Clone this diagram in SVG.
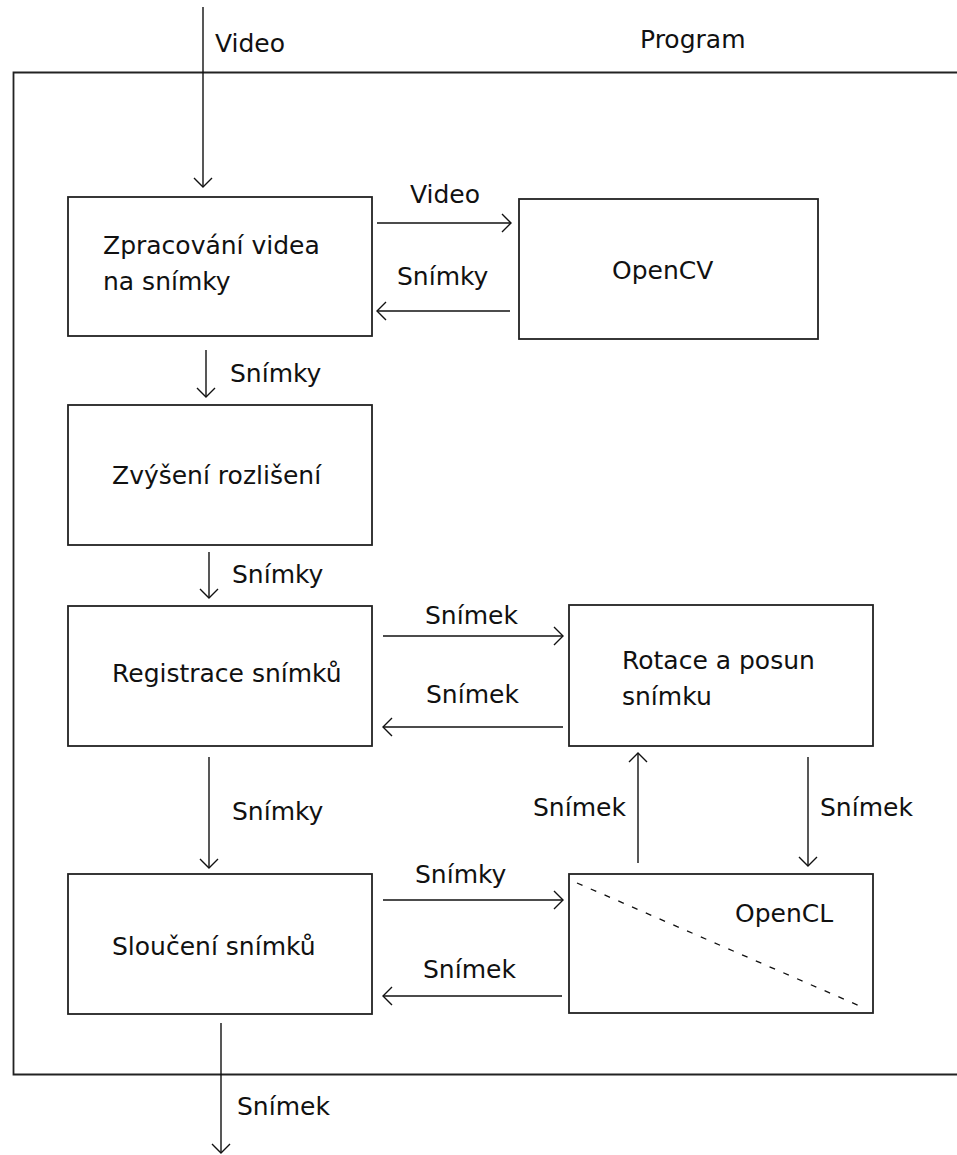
<svg xmlns="http://www.w3.org/2000/svg" width="957" height="1155" viewBox="0 0 957 1155">
<defs>
<style>
.box{fill:#fff;stroke:#222;stroke-width:1.8}
.ln{fill:none;stroke:#111;stroke-width:1.4}
.t{font-family:"DejaVu Sans","Noto Sans",sans-serif;font-size:25px;fill:#111}
</style>
<marker id="ah" viewBox="0 0 11 20" refX="10" refY="10" markerWidth="11" markerHeight="20" markerUnits="userSpaceOnUse" orient="auto">
<path d="M1,1 L10,10 L1,19" fill="none" stroke="#111" stroke-width="1.4"/>
</marker>
</defs>
<rect width="957" height="1155" fill="#fff"/>
<g id="program">
<path d="M957,72.5 H13.5 V1074.5 H957" fill="none" stroke="#222" stroke-width="1.8"/>
<text class="t" x="640" y="48">Program</text>
</g>
<g id="n-zpracovani">
<rect class="box" x="68" y="197" width="304" height="139"/>
<text class="t" x="103" y="254">Zpracování videa</text>
<text class="t" x="103" y="290">na snímky</text>
</g>
<g id="n-opencv">
<rect class="box" x="519" y="199" width="299" height="140"/>
<text class="t" x="612" y="279">OpenCV</text>
</g>
<g id="n-zvyseni">
<rect class="box" x="68" y="405" width="304" height="140"/>
<text class="t" x="112" y="484">Zvýšení rozlišení</text>
</g>
<g id="n-registrace">
<rect class="box" x="68" y="606" width="304" height="140"/>
<text class="t" x="112" y="682">Registrace snímků</text>
</g>
<g id="n-rotace">
<rect class="box" x="569" y="605" width="304" height="141"/>
<text class="t" x="622" y="669">Rotace a posun</text>
<text class="t" x="622" y="705">snímku</text>
</g>
<g id="n-slouceni">
<rect class="box" x="68" y="874" width="304" height="140"/>
<text class="t" x="112" y="955">Sloučení snímků</text>
</g>
<g id="n-opencl">
<rect class="box" x="569" y="874" width="304" height="139"/>
<line x1="577" y1="883" x2="862" y2="1007" stroke="#111" stroke-width="1.3" stroke-dasharray="6 9"/>
<text class="t" x="735" y="922">OpenCL</text>
</g>
<g id="connectors">
<line class="ln" x1="203" y1="7" x2="203" y2="187" marker-end="url(#ah)"/>
<text class="t" x="215" y="52">Video</text>
<line class="ln" x1="377" y1="223" x2="511" y2="223" marker-end="url(#ah)"/>
<text class="t" x="410" y="203">Video</text>
<line class="ln" x1="510" y1="311" x2="377" y2="311" marker-end="url(#ah)"/>
<text class="t" x="397" y="285">Snímky</text>
<line class="ln" x1="206" y1="350" x2="206" y2="397" marker-end="url(#ah)"/>
<text class="t" x="230" y="382">Snímky</text>
<line class="ln" x1="209" y1="552" x2="209" y2="598" marker-end="url(#ah)"/>
<text class="t" x="232" y="583">Snímky</text>
<line class="ln" x1="383" y1="636" x2="563" y2="636" marker-end="url(#ah)"/>
<text class="t" x="425" y="624">Snímek</text>
<line class="ln" x1="563" y1="727" x2="383" y2="727" marker-end="url(#ah)"/>
<text class="t" x="426" y="703">Snímek</text>
<line class="ln" x1="209" y1="757" x2="209" y2="868" marker-end="url(#ah)"/>
<text class="t" x="232" y="820">Snímky</text>
<line class="ln" x1="638" y1="863" x2="638" y2="753" marker-end="url(#ah)"/>
<text class="t" x="533" y="816">Snímek</text>
<line class="ln" x1="808" y1="757" x2="808" y2="866" marker-end="url(#ah)"/>
<text class="t" x="820" y="816">Snímek</text>
<line class="ln" x1="383" y1="900" x2="563" y2="900" marker-end="url(#ah)"/>
<text class="t" x="415" y="883">Snímky</text>
<line class="ln" x1="562" y1="996" x2="383" y2="996" marker-end="url(#ah)"/>
<text class="t" x="423" y="978">Snímek</text>
<line class="ln" x1="221" y1="1023" x2="221" y2="1153" marker-end="url(#ah)"/>
<text class="t" x="237" y="1115">Snímek</text>
</g>
</svg>
